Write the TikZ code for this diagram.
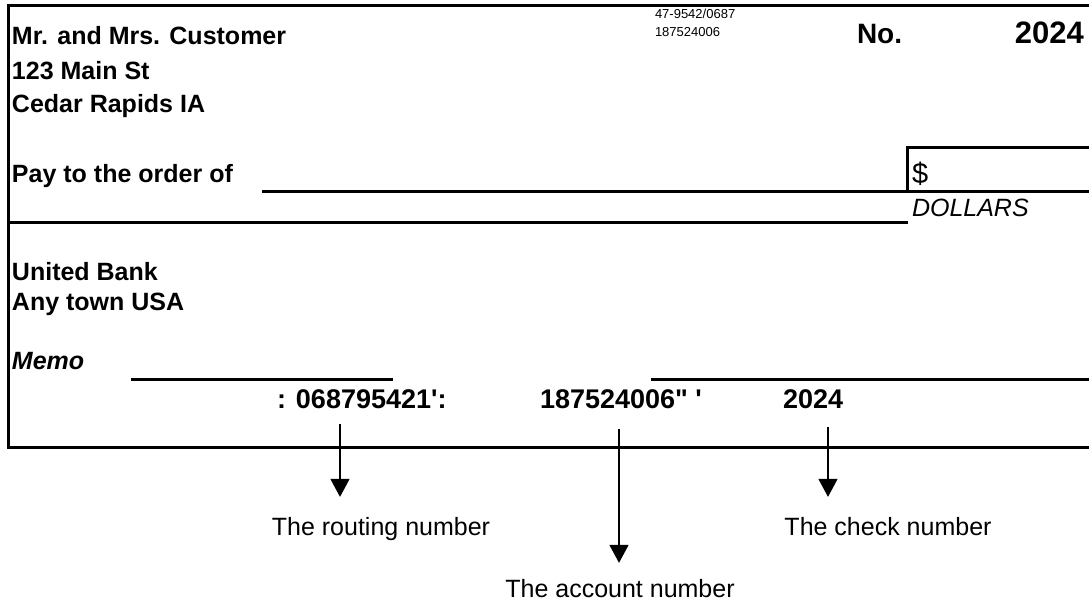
\documentclass[tikz,border=0pt]{standalone}
\usepackage{fontspec}
\setmainfont{Liberation Sans}
\newfontfamily\micrfont{Liberation Sans}
\usetikzlibrary{arrows.meta}
\newcommand{\sq}{\symbol{"27}}
\newcommand{\dq}{\symbol{"22}}
\tikzset{
  txt/.style={inner sep=0pt, outer sep=0pt, anchor=base west},
  bold/.style={txt, font=\fontsize{25}{25}\selectfont\bfseries},
  micr/.style={txt, font=\micrfont\fontsize{27}{27}\selectfont\bfseries},
  lbl/.style={inner sep=0pt, outer sep=0pt, anchor=base, font=\fontsize{25}{25}\selectfont},
  rule/.style={line width=3pt},
  pointer/.style={line width=1.4pt, -{Triangle[width=19pt,length=18pt]}},
}
\begin{document}
\begin{tikzpicture}[x=1pt,y=-1pt]
\useasboundingbox (0,0) rectangle (1089,603);
% frame
\coordinate (tl) at (8,5);
\coordinate (tr) at (1089,5);
\coordinate (bl) at (8,447);
\coordinate (br) at (1089,447);
\draw[rule, line cap=rect] (tr) -- (tl) -- (bl) -- (br);
% header texts
\node[bold] (name) at (12,44) {Mr. and Mrs. Customer};
\node[bold] (street) at (12,79) {123 Main St};
\node[bold] (city) at (12,112) {Cedar Rapids IA};
\node[txt, font=\fontsize{13}{13}\selectfont] (fr1) at (655,18) {47-9542/0687};
\node[txt, font=\fontsize{13}{13}\selectfont] (fr2) at (655,36) {187524006};
\node[txt, font=\fontsize{28}{28}\selectfont\bfseries] (no) at (857,43) {No.};
\node[inner sep=0pt, anchor=base east, font=\fontsize{31}{31}\selectfont\bfseries] (num) at (1084,43) {2024};
% pay line
\node[bold] (pay) at (12,182) {Pay to the order of};
\coordinate (p1) at (262,191);
\coordinate (p2) at (1089,191);
\draw[rule] (p1) -- (p2);
\coordinate (d1) at (907,191);
\coordinate (d2) at (907,147);
\coordinate (d3) at (1089,147);
\draw[rule] (d1) -- (d2) -- (d3);
\node[txt, font=\fontsize{29}{29}\selectfont] (dollar) at (912,183) {\$};
\node[txt, font=\fontsize{25}{25}\selectfont\itshape] (dollars) at (912,216) {DOLLARS};
\coordinate (w1) at (8,222);
\coordinate (w2) at (908,222);
\draw[rule] (w1) -- (w2);
% bank
\node[bold] (bank) at (12,280) {United Bank};
\node[bold] (town) at (12,310) {Any town USA};
% memo
\node[bold, font=\fontsize{25}{25}\selectfont\bfseries\itshape] (memo) at (12,369) {Memo};
\coordinate (m1) at (131,379);
\coordinate (m2) at (393,379);
\draw[rule] (m1) -- (m2);
\coordinate (s1) at (651,379);
\coordinate (s2) at (1089,379);
\draw[rule] (s1) -- (s2);
% MICR line
\node[micr] (routing) at (277,408) {: 068795421\sq:};
\node[micr] (account) at (540,408) {187524006\dq{} \sq};
\node[micr] (check) at (783,408) {2024};
% pointers
\node[lbl] (rl) at (381,535) {The routing number};
\node[lbl] (al) at (620,597) {The account number};
\node[lbl] (cl) at (888,535) {The check number};
\coordinate (r0) at (340,424);
\coordinate (a0) at (619,429);
\coordinate (c0) at (828,427);
\draw[pointer, shorten >=20pt] (r0) -- (r0 |- rl.north);
\draw[pointer, shorten >=16pt] (a0) -- (a0 |- al.north);
\draw[pointer, shorten >=20pt] (c0) -- (c0 |- cl.north);
\end{tikzpicture}
\end{document}
